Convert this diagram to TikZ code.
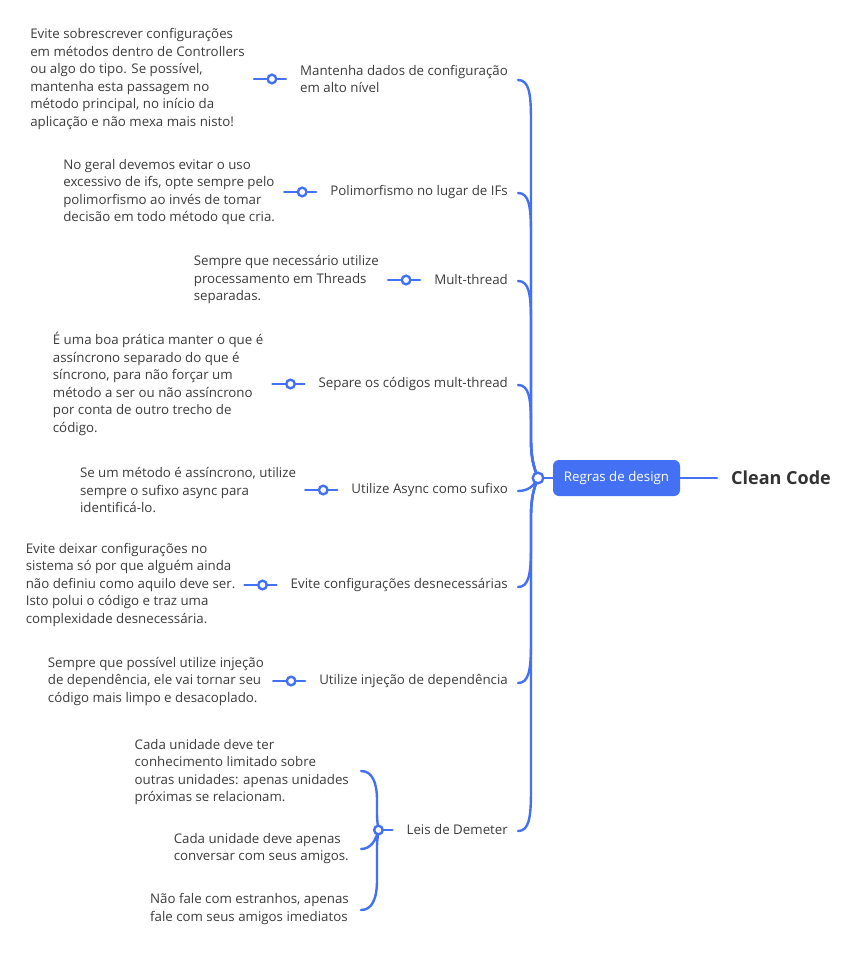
\documentclass[tikz,border=0pt]{standalone}
\usepackage{fontspec}
\setmainfont{Open Sans}
\usetikzlibrary{positioning,backgrounds}
\definecolor{br}{HTML}{4470F4}
\definecolor{tx}{HTML}{3B3B3B}
\definecolor{tt}{HTML}{333333}
\begin{document}
\begin{tikzpicture}[x=1pt,y=-1pt,
  every node/.style={inner sep=0pt, text=tx, font=\fontsize{13.3}{17.5}\selectfont},
  topic/.style={anchor=east, align=left},
  note/.style={anchor=east, align=left},
  dot/.style={circle, draw=br, fill=white, line width=2.4pt, minimum size=8.6pt},
  hubdot/.style={circle, draw=br, fill=white, line width=2.4pt, minimum size=10.6pt},
  link/.style={draw=br, line width=2.4pt, line cap=round},
  box/.style={fill=br, text=white, rounded corners=6pt, minimum width=127pt, minimum height=36pt, font=\fontsize{13.3}{16}\selectfont},
]
\useasboundingbox (0,0) rectangle (856,955);

% central
\node[hubdot] (hub) at (538,478) {};
\node[box] (rd) at (616.5,478) {Regras de design};
\node[anchor=west, text=tt, font=\fontsize{18}{20}\selectfont\bfseries] (cc) at (731,478) {Clean Code};

% topics
\node[topic] (s1) at (508,79) {Mantenha dados de configuração\\em alto nível};
\node[topic] (s2) at (508,192) {Polimorfismo no lugar de IFs};
\node[topic] (s3) at (508,280) {Mult-thread};
\node[topic] (s4) at (508,384) {Separe os códigos mult-thread};
\node[topic] (s5) at (508,490) {Utilize Async como sufixo};
\node[topic] (s6) at (508,585) {Evite configurações desnecessárias};
\node[topic] (s7) at (508,681) {Utilize injeção de dependência};
\node[topic] (s8) at (508,830) {Leis de Demeter};

% dots
\foreach \i in {1,...,8} {\node[dot, left=22.5pt of s\i] (c\i) {};}

% notes
\node[note, left=21.5pt of c1] (n1) {Evite sobrescrever configurações\\em métodos dentro de Controllers\\ou algo do tipo. Se possível,\\mantenha esta passagem no\\método principal, no início da\\aplicação e não mexa mais nisto!};
\node[note, left=21.5pt of c2] (n2) {No geral devemos evitar o uso\\excessivo de ifs, opte sempre pelo\\polimorfismo ao invés de tomar\\decisão em todo método que cria.};
\node[note, left=21.5pt of c3] (n3) {Sempre que necessário utilize\\processamento em Threads\\separadas.};
\node[note, left=21.5pt of c4] (n4) {É uma boa prática manter o que é\\assíncrono separado do que é\\síncrono, para não forçar um\\método a ser ou não assíncrono\\por conta de outro trecho de\\código.};
\node[note, left=21.5pt of c5] (n5) {Se um método é assíncrono, utilize\\sempre o sufixo async para\\identificá-lo.};
\node[note, left=21.5pt of c6] (n6) {Evite deixar configurações no\\sistema só por que alguém ainda\\não definiu como aquilo deve ser.\\Isto polui o código e traz uma\\complexidade desnecessária.};
\node[note, left=21.5pt of c7] (n7) {Sempre que possível utilize injeção\\de dependência, ele vai tornar seu\\código mais limpo e desacoplado.};

% Demeter notes
\node[note] (d1) at (349,772) {Cada unidade deve ter\\conhecimento limitado sobre\\outras unidades: apenas unidades\\próximas se relacionam.};
\node[note] (d2) at (349,848.5) {Cada unidade deve apenas\\conversar com seus amigos.};
\node[note] (d3) at (349,909) {Não fale com estranhos, apenas\\fale com seus amigos imediatos};

\coordinate (e1) at (518,80);
\coordinate (e2) at (518,193);
\coordinate (e3) at (518,281);
\coordinate (e4) at (518,385);
\coordinate (e5) at (518,491);
\coordinate (e6) at (518,587);
\coordinate (e7) at (518,683);
\coordinate (e8) at (518,831);
\coordinate (b1) at (361,771);
\coordinate (b2) at (361,849);
\coordinate (b3) at (361,910);

\begin{scope}[on background layer]
  % stubs around dots
  \foreach \i in {1,...,8} {
    \draw[link] (c\i.east) -- ++(8.5,0);
  }
  \foreach \i in {1,...,7} {
    \draw[link] (c\i.west) -- ++(-12.5,0);
  }
  % upper branches
  \draw[link] (e1) .. controls (529,80) and (531,93) .. (531,121) -- (531,440) .. controls (531,458) and (534,468) .. (hub.center);
  \draw[link] (e2) .. controls (529,193) and (531,206) .. (531,234) -- (531,440) .. controls (531,458) and (534,468) .. (hub.center);
  \draw[link] (e3) .. controls (529,281) and (531,294) .. (531,322) -- (531,440) .. controls (531,458) and (534,468) .. (hub.center);
  \draw[link] (e4) .. controls (529,385) and (531,398) .. (531,426) -- (531,440) .. controls (531,458) and (534,468) .. (hub.center);
  % near branch
  \draw[link] (e5) .. controls (528,491) and (534,486) .. (hub.center);
  % lower branches
  \draw[link] (e6) .. controls (529,587) and (531,574) .. (531,546) -- (531,516) .. controls (531,498) and (534,488) .. (hub.center);
  \draw[link] (e7) .. controls (529,683) and (531,670) .. (531,642) -- (531,516) .. controls (531,498) and (534,488) .. (hub.center);
  \draw[link] (e8) .. controls (529,831) and (531,818) .. (531,790) -- (531,516) .. controls (531,498) and (534,488) .. (hub.center);
  % hub to box to title
  \draw[link] (hub.center) -- (rd.west);
  \draw[link] (rd.east) -- ([xshift=-14pt]cc.west);
  % Demeter bracket
  \draw[link] (b1) .. controls (372,771) and (377,782) .. (377,800) -- (377,812) .. controls (377,822) and (378,826) .. (c8.center);
  \draw[link] (b2) .. controls (371,849) and (376,840) .. (c8.center);
  \draw[link] (b3) .. controls (372,910) and (377,899) .. (377,880) -- (377,848) .. controls (377,840) and (378,836) .. (c8.center);
\end{scope}
\end{tikzpicture}
\end{document}
